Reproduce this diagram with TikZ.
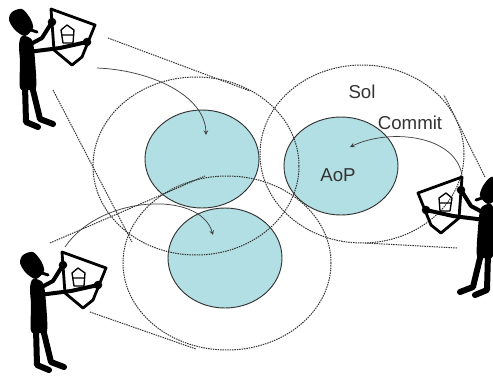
\documentclass[tikz,border=0pt]{standalone}
\usepackage{fontspec}
\setmainfont{Liberation Sans}
\usetikzlibrary{shapes.geometric}
\definecolor{lagoon}{RGB}{178,223,227}
\tikzset{
	region/.style={ellipse, draw=black!80, fill=lagoon, line width=0.7pt, inner sep=0pt},
	horizon/.style={ellipse, draw=black!80, dash pattern=on 1.1pt off 0.7pt, line width=0.75pt, inner sep=0pt},
	sight/.style={draw=black!80, dash pattern=on 1.1pt off 0.7pt, line width=0.75pt},
	glance/.style={->, >=stealth, draw=black!75, line width=0.55pt},
	tag/.style={font=\fontsize{14}{16}\selectfont, text=black!80, inner sep=0pt},
	viewer/.pic={
		\fill plot[smooth cycle] coordinates {(12,12) (22,9) (30,18) (33,28) (25,36) (15,30) (9,20)};
		\draw[line width=2.2pt, line cap=round] (28,29) -- (37,32);
		\fill plot[smooth cycle] coordinates {(22,36) (32,40) (35,60) (36,88) (28,90) (20,88) (20,62) (19,45)};
		\draw[line width=4.5pt, line cap=round, line join=round] (25,86) -- (26,122) -- (38,127);
		\draw[line width=4.5pt, line cap=round, line join=round] (32,86) -- (40,119) -- (53,124);
		\draw[line width=3pt, line cap=round, line join=round] (27,46) -- (42,38) -- (52,22);
		\draw[line width=3pt, line cap=round, line join=round] (28,52) -- (60,48) -- (87,42);
		\fill (52,22) circle (3.2pt) (87,42) circle (3.2pt);
		\draw[line width=2.1pt, line join=round] (51,9) -- (95,25) -- (82,57) -- (72,65) -- (54,50) -- cycle;
		\draw[line width=1pt, line join=round] (67,25) -- (74,30) -- (73,43) -- (63,43) -- (61,30) -- cycle
			(62,35) -- (73,35);
	}
}

\begin{document}
\begin{tikzpicture}[x=0.75pt, y=-0.75pt]
	\useasboundingbox (0,0) rectangle (493,376);

	\node[region, minimum width=85.5pt, minimum height=73.5pt] (ownA) at (202,159) {};
	\node[region, minimum width=85.5pt, minimum height=75pt] (ownB) at (225,258) {};
	\node[region, minimum width=85.5pt, minimum height=73.5pt] (aop) at (341,166) {};

	\node[horizon, minimum width=154.5pt, minimum height=133.5pt] (solA) at (196,166) {};
	\node[horizon, minimum width=156pt, minimum height=130.5pt] (solB) at (227,263) {};
	\node[horizon, minimum width=153pt, minimum height=133.5pt] (sol) at (362,154) {};

	\node[tag] (sollabel) at (362,92) {Sol};
	\node[tag] (commit) at (410,123) {Commit};
	\node[tag] (aoplabel) at (338,175) {AoP};

	\pic at (0,0) {viewer};
	\pic at (11,243) {viewer};
	\pic[xscale=-1] at (513,168) {viewer};

	\coordinate (eyeA1) at (108,38);
	\coordinate (eyeA2) at (53,90);
	\coordinate (eyeB1) at (50,243);
	\coordinate (eyeB2) at (90,312);
	\coordinate (eyeC1) at (485,177);
	\coordinate (eyeC2) at (457,248);
	\coordinate (edgeA1) at (250,91);
	\coordinate (edgeA2) at (132,242);
	\coordinate (edgeB1) at (205,176);
	\coordinate (edgeB2) at (196,349);
	\coordinate (edgeC1) at (444,95);
	\coordinate (edgeC2) at (365,243);
	\draw[sight] (eyeA1) -- (edgeA1) (eyeA2) -- (edgeA2)
		(eyeB1) -- (edgeB1) (eyeB2) -- (edgeB2)
		(eyeC1) -- (edgeC1) (eyeC2) -- (edgeC2);

	\coordinate (handA) at (97,68);
	\coordinate (handB) at (65,247);
	\coordinate (handC) at (462,175);
	\coordinate (pinA) at (206,135);
	\coordinate (pinB) at (213,235);
	\coordinate (pinC) at (350,147);
	\draw[glance] (handA) .. controls (150,70) and (205,95) .. (pinA);
	\draw[glance] (handB) .. controls (100,195) and (200,190) .. (pinB);
	\draw[glance] (handC) .. controls (455,135) and (390,128) .. (pinC);
\end{tikzpicture}
\end{document}
